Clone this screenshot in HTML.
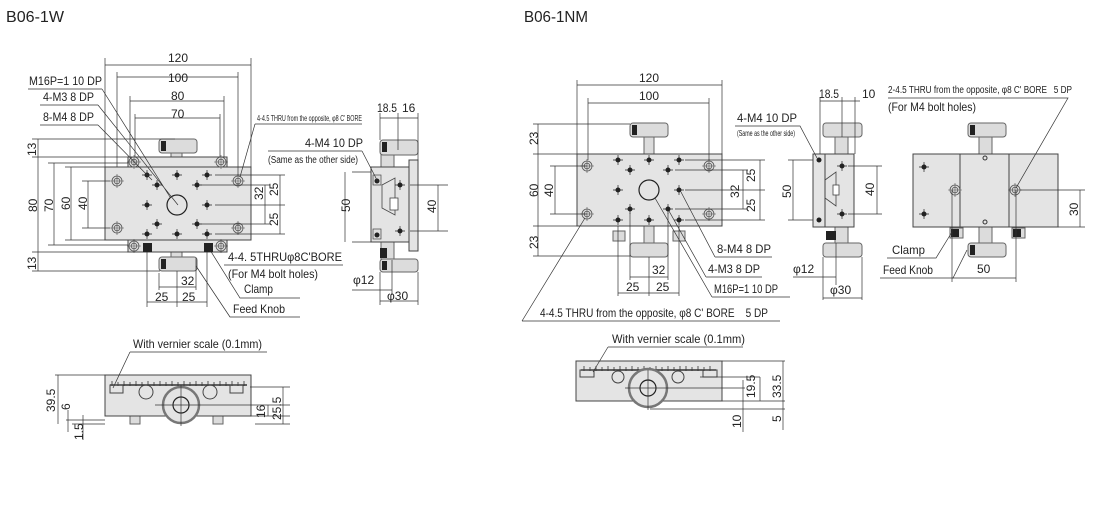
<!DOCTYPE html>
<html><head><meta charset="utf-8"><style>
html,body{margin:0;padding:0;background:#fff;width:1100px;height:515px;overflow:hidden}
svg{display:block}
text{font-family:"Liberation Sans Narrow","Liberation Sans",sans-serif;font-size:12px;fill:#222}
.s{font-size:8px}
.t{font-size:16px}
.b{fill:#e4e4e4;stroke:#444;stroke-width:1}
.k{fill:#dcdcdc;stroke:#666;stroke-width:1}
.l{stroke:#333;stroke-width:0.7;fill:none}
</style></head><body>
<svg width="1100" height="515" viewBox="0 0 1100 515" xmlns="http://www.w3.org/2000/svg">
<defs>
<g id="h"><circle r="2.5" fill="#222"/><path d="M-5 0H5M0 -5V5" stroke="#222" stroke-width="0.7"/></g>
<g id="c"><circle r="5" fill="#ddd" stroke="#555" stroke-width="0.8"/><circle r="2.8" fill="none" stroke="#555" stroke-width="0.8"/><path d="M-7 0H7M0 -7V7" stroke="#555" stroke-width="0.6"/></g>
<g id="kn"><rect x="0" y="0" width="38" height="14" rx="3" class="k"/><rect x="2" y="2" width="5" height="10" fill="#222"/></g>
</defs>
<text x="6" y="22" class="t" textLength="58" lengthAdjust="spacingAndGlyphs">B06-1W</text>
<text x="524" y="22" class="t" textLength="64" lengthAdjust="spacingAndGlyphs">B06-1NM</text>

<!-- ===== LEFT TOP VIEW ===== -->
<g>
<rect x="171" y="150" width="11" height="17" class="k"/>
<rect x="171" y="240" width="11" height="18" class="k"/>
<use href="#kn" x="159" y="139"/>
<use href="#kn" x="159" y="257"/>
<rect x="128" y="157" width="99" height="10" class="b"/>
<rect x="128" y="240" width="99" height="12" class="b"/>
<rect x="105" y="167" width="146" height="73" class="b"/>
<use href="#c" x="134" y="162"/><use href="#c" x="221" y="162"/>
<use href="#c" x="134" y="246"/><use href="#c" x="221" y="246"/>
<use href="#c" x="117" y="181"/><use href="#c" x="238" y="181"/>
<use href="#c" x="117" y="228"/><use href="#c" x="238" y="228"/>
<rect x="143" y="243" width="9" height="9" fill="#222"/><rect x="204" y="243" width="9" height="9" fill="#222"/>
<use href="#h" x="147" y="175"/><use href="#h" x="177" y="175"/><use href="#h" x="207" y="175"/>
<use href="#h" x="157" y="185"/><use href="#h" x="197" y="185"/>
<use href="#h" x="147" y="205"/><use href="#h" x="207" y="205"/>
<use href="#h" x="157" y="224"/><use href="#h" x="197" y="224"/>
<use href="#h" x="147" y="234"/><use href="#h" x="177" y="234"/><use href="#h" x="207" y="234"/>
<circle cx="177" cy="205" r="10" fill="#e4e4e4" stroke="#222" stroke-width="1.2"/>
<path class="l" d="M105 167V58M251 167V58M117 167V72M238 175V72M130 157V96M224 157V96M135 157V114M220 157V114"/>
<path class="l" d="M105 65H251M117 77H238M130 101H224M135 118H220"/>
<text x="168" y="62">120</text><text x="168" y="82">100</text><text x="171" y="100">80</text><text x="171" y="118">70</text>
<path class="l" d="M28 89H102M40 105H98M40 125H98M102 89L170 197M98 105L178 205M98 125L152 180"/>
<text x="29" y="85" textLength="73" lengthAdjust="spacingAndGlyphs">M16P=1 10 DP</text>
<text x="43" y="101" textLength="51" lengthAdjust="spacingAndGlyphs">4-M3 8 DP</text>
<text x="43" y="121" textLength="51" lengthAdjust="spacingAndGlyphs">8-M4 8 DP</text>
<text x="257" y="121" class="s" textLength="105" lengthAdjust="spacingAndGlyphs">4-4.5 THRU from the opposite, φ8 C' BORE</text>
<path class="l" d="M255 124H362M255 124L240 177"/>
<path class="l" d="M32 139H175M32 157H128M32 252H128M32 271H160M38 139V271"/>
<path class="l" d="M48 163H128M48 245H128M65 167H105M65 240H105M82 181H110M82 228H110"/>
<path class="l" d="M54 163V245M71 167V240M88 181V228"/>
<text transform="translate(36 156) rotate(-90)">13</text><text transform="translate(36 270) rotate(-90)">13</text>
<text transform="translate(37 212) rotate(-90)">80</text><text transform="translate(53 212) rotate(-90)">70</text>
<text transform="translate(70 210) rotate(-90)">60</text><text transform="translate(87 210) rotate(-90)">40</text>
<path class="l" d="M215 175H285M200 185H270M215 205H285M200 224H270M215 234H285M265 185V224M280 175V205M280 205V234"/>
<text transform="translate(263 200) rotate(-90)">32</text><text transform="translate(278 196) rotate(-90)">25</text><text transform="translate(278 226) rotate(-90)">25</text>
<path class="l" d="M147 252V307M177 271V307M207 252V307M159 273V290M196 258V290M159 287H196M147 302H207"/>
<text x="181" y="285">32</text><text x="155" y="301">25</text><text x="182" y="301">25</text>
<text x="228" y="261" textLength="114" lengthAdjust="spacingAndGlyphs">4-4. 5THRUφ8C'BORE</text>
<text x="228" y="278" textLength="90" lengthAdjust="spacingAndGlyphs">(For M4 bolt holes)</text>
<text x="244" y="293" textLength="29" lengthAdjust="spacingAndGlyphs">Clamp</text>
<text x="233" y="313" textLength="52" lengthAdjust="spacingAndGlyphs">Feed Knob</text>
<path class="l" d="M224 265H343M210 250L240 298H300M196 266L230 317H300"/>
</g>

<!-- LEFT SIDE VIEW -->
<g>
<rect x="381" y="150" width="13" height="18" class="k"/>
<rect x="381" y="242" width="13" height="18" class="k"/>
<rect x="380" y="140" width="38" height="15" rx="3" class="k"/><rect x="382" y="142" width="5" height="10" fill="#222"/>
<rect x="380" y="259" width="38" height="13" rx="3" class="k"/><rect x="382" y="261" width="5" height="9" fill="#222"/>
<rect x="409" y="160" width="9" height="91" class="b"/>
<rect x="371" y="167" width="38" height="75" class="b"/>
<path d="M382 185L395 178V215L382 208Z" fill="none" stroke="#444" stroke-width="0.8"/>
<rect x="390" y="198" width="8" height="12" fill="#fff" stroke="#444" stroke-width="0.8"/>
<use href="#h" x="400" y="185"/><use href="#h" x="400" y="231"/>
<rect x="373" y="175" width="8" height="10" fill="#ddd" stroke="#444" stroke-width="0.7"/><circle cx="377" cy="181" r="2.5" fill="#222"/>
<rect x="373" y="229" width="8" height="10" fill="#ddd" stroke="#444" stroke-width="0.7"/><circle cx="377" cy="235" r="2.5" fill="#222"/>
<rect x="380" y="248" width="7" height="10" fill="#222"/>
<path class="l" d="M380 113V140M398 113V150M418 113V160M380 118H418"/>
<text x="377" y="112" textLength="20" lengthAdjust="spacingAndGlyphs">18.5</text><text x="402" y="112">16</text>
<path class="l" d="M352 172H371M352 242H371M345 172V242M410 185H448M410 231H448M438 185V231"/>
<text transform="translate(350 212) rotate(-90)">50</text><text transform="translate(436 213) rotate(-90)">40</text>
<text x="305" y="147" textLength="58" lengthAdjust="spacingAndGlyphs">4-M4 10 DP</text>
<text x="268" y="163" style="font-size:10px" textLength="90" lengthAdjust="spacingAndGlyphs">(Same as the other side)</text>
<path class="l" d="M268 151H362M362 151L378 182"/>
<path class="l" d="M380 272V305M418 272V305M392 260V295M352 290H392M380 301H418"/>
<text x="353" y="284">φ12</text><text x="387" y="300">φ30</text>
</g>

<!-- LEFT FRONT VIEW -->
<g>
<rect x="130" y="416" width="10" height="8" class="k"/><rect x="213" y="416" width="10" height="8" class="k"/>
<rect x="105" y="375" width="146" height="41" class="b"/>
<path d="M110 385H247" stroke="#333" stroke-width="1.5"/>
<path d="M112 381V386M118 382V386M124 381V386M130 382V386M136 381V386M142 382V386M148 381V386M154 382V386M160 381V386M166 382V386M172 381V386M178 382V386M184 381V386M190 382V386M196 381V386M202 382V386M208 381V386M214 382V386M220 381V386M226 382V386M232 381V386M238 382V386M244 381V386" stroke="#333" stroke-width="0.8"/>
<rect x="110" y="385" width="13" height="8" fill="none" stroke="#444"/><rect x="230" y="385" width="13" height="8" fill="none" stroke="#444"/>
<circle cx="146" cy="392" r="7" fill="none" stroke="#444"/><circle cx="210" cy="392" r="7" fill="none" stroke="#444"/>
<circle cx="181" cy="405" r="18" fill="#e4e4e4" stroke="#777" stroke-width="2.5"/>
<circle cx="181" cy="405" r="8" fill="none" stroke="#222" stroke-width="1.2"/>
<path class="l" d="M155 405H290M181 385V426M55 375H105M58 375V424M250 387H290M250 416H290M255 424H290M66 420H105M72 424H105M68 410V432M83 415V440"/>
<path class="l" d="M268 405V416M283 387V424"/>
<text transform="translate(55 412) rotate(-90)">39.5</text><text transform="translate(70 410) rotate(-90)">6</text>
<text transform="translate(83 440) rotate(-90)">1.5</text>
<text transform="translate(265 418) rotate(-90)">16</text><text transform="translate(281 420) rotate(-90)">25.5</text>
<text x="133" y="348" textLength="129" lengthAdjust="spacingAndGlyphs">With vernier scale (0.1mm)</text>
<path class="l" d="M130 352H267M130 352L113 388"/>
</g>

<!-- ===== RIGHT TOP VIEW ===== -->
<g>
<rect x="644" y="136" width="10" height="18" class="k"/><rect x="644" y="226" width="10" height="17" class="k"/>
<use href="#kn" x="630" y="123"/>
<rect x="630" y="243" width="38" height="14" rx="3" class="k"/>
<rect x="613" y="231" width="12" height="10" class="k"/><rect x="673" y="231" width="12" height="10" class="k"/>
<rect x="577" y="154" width="145" height="72" class="b"/>
<use href="#c" x="587" y="166"/><use href="#c" x="709" y="166"/><use href="#c" x="587" y="214"/><use href="#c" x="709" y="214"/>
<use href="#h" x="618" y="160"/><use href="#h" x="649" y="160"/><use href="#h" x="679" y="160"/>
<use href="#h" x="630" y="170"/><use href="#h" x="668" y="170"/>
<use href="#h" x="618" y="190"/><use href="#h" x="679" y="190"/>
<use href="#h" x="630" y="209"/><use href="#h" x="668" y="209"/>
<use href="#h" x="618" y="220"/><use href="#h" x="649" y="220"/><use href="#h" x="679" y="220"/>
<circle cx="649" cy="190" r="10" fill="#e4e4e4" stroke="#222" stroke-width="1.2"/>
<path class="l" d="M577 154V80M722 154V80M588 160V98M709 160V98M577 85H722M588 103H709"/>
<text x="639" y="82">120</text><text x="639" y="100">100</text>
<path class="l" d="M533 124H630M533 154H577M533 226H577M533 256H630M538 124V256M550 166H587M550 214H587M555 166V214"/>
<text transform="translate(538 145) rotate(-90)">23</text><text transform="translate(538 249) rotate(-90)">23</text>
<text transform="translate(538 197) rotate(-90)">60</text><text transform="translate(553 197) rotate(-90)">40</text>
<path class="l" d="M685 160H765M675 170H748M685 190H765M675 209H748M685 220H765M743 170V209M760 160V190M760 190V220"/>
<text transform="translate(739 198) rotate(-90)">32</text><text transform="translate(755 182) rotate(-90)">25</text><text transform="translate(755 212) rotate(-90)">25</text>
<path class="l" d="M618 226V296M679 226V296M630 213V280M668 213V280M630 277H668M618 293H679M649 257V296"/>
<text x="652" y="274">32</text><text x="626" y="291">25</text><text x="656" y="291">25</text>
<text x="717" y="253" textLength="54" lengthAdjust="spacingAndGlyphs">8-M4 8 DP</text>
<text x="708" y="273" textLength="52" lengthAdjust="spacingAndGlyphs">4-M3 8 DP</text>
<text x="714" y="293" textLength="64" lengthAdjust="spacingAndGlyphs">M16P=1 10 DP</text>
<path class="l" d="M715 257H772M681 192L715 257M706 277H762M669 211L706 277M712 297H790M655 198L712 297"/>
<text x="540" y="317" textLength="228" lengthAdjust="spacingAndGlyphs">4-4.5 THRU from the opposite, φ8 C' BORE&#160;&#160;&#160;&#160;5 DP</text>
<path class="l" d="M522 321H780M522 321L585 218"/>
</g>

<!-- RIGHT SIDE VIEW -->
<g>
<rect x="835" y="137" width="13" height="17" class="k"/><rect x="835" y="227" width="13" height="16" class="k"/>
<rect x="823" y="123" width="39" height="14" rx="3" class="k"/>
<rect x="823" y="243" width="39" height="14" rx="3" class="k"/>
<rect x="825" y="154" width="29" height="73" class="b"/>
<rect x="813" y="154" width="12" height="73" class="b"/>
<path d="M825 180L836 172V206L825 198Z" fill="none" stroke="#444" stroke-width="0.8"/>
<rect x="833" y="185" width="6" height="10" fill="#fff" stroke="#444" stroke-width="0.8"/>
<use href="#h" x="842" y="166"/><use href="#h" x="842" y="214"/>
<circle cx="819" cy="160" r="2.5" fill="#222"/><circle cx="819" cy="220" r="2.5" fill="#222"/>
<rect x="826" y="231" width="10" height="9" fill="#222"/>
<path class="l" d="M820 97V154M842 97V137M855 97V154M820 101H860"/>
<text x="819" y="98" textLength="20" lengthAdjust="spacingAndGlyphs">18.5</text><text x="862" y="98">10</text>
<path class="l" d="M788 160H813M788 220H813M793 160V220M848 166H882M848 214H882M877 166V214"/>
<text transform="translate(791 198) rotate(-90)">50</text><text transform="translate(874 196) rotate(-90)">40</text>
<text x="737" y="122" textLength="60" lengthAdjust="spacingAndGlyphs">4-M4 10 DP</text>
<text x="737" y="136" class="s" textLength="58" lengthAdjust="spacingAndGlyphs">(Same as the other side)</text>
<path class="l" d="M735 126H800L817 158"/>
<path class="l" d="M823 257V300M862 257V300M836 243V285M793 277H836M823 298H862"/>
<text x="793" y="273">φ12</text><text x="830" y="294">φ30</text>
</g>

<!-- RIGHT END VIEW -->
<g>
<rect x="979" y="136" width="13" height="18" class="k"/><rect x="979" y="227" width="13" height="16" class="k"/>
<use href="#kn" x="968" y="123"/>
<rect x="968" y="243" width="38" height="14" rx="3" class="k"/><rect x="970" y="245" width="5" height="10" fill="#222"/>
<rect x="913" y="154" width="145" height="73" class="b"/>
<path d="M960 154V227M1009 154V227" stroke="#444" stroke-width="1"/>
<use href="#h" x="924" y="167"/><use href="#h" x="924" y="214"/>
<use href="#c" x="955" y="190"/><use href="#c" x="1015" y="190"/>
<circle cx="985" cy="158" r="2" fill="none" stroke="#333"/><circle cx="985" cy="222" r="2" fill="none" stroke="#333"/>
<rect x="950" y="228" width="13" height="10" class="k"/><rect x="951" y="229" width="8" height="8" fill="#222"/>
<rect x="1012" y="228" width="13" height="10" class="k"/><rect x="1013" y="229" width="8" height="8" fill="#222"/>
<path class="l" d="M1020 190H1085M1058 227H1085M1080 190V227M952 190V282M1016 190V282M952 278H1016"/>
<text transform="translate(1078 216) rotate(-90)">30</text><text x="977" y="273">50</text>
<text x="888" y="93" style="font-size:10px" textLength="184" lengthAdjust="spacingAndGlyphs">2-4.5 THRU from the opposite, φ8 C' BORE&#160;&#160;&#160;5 DP</text>
<text x="888" y="111" textLength="88" lengthAdjust="spacingAndGlyphs">(For M4 bolt holes)</text>
<path class="l" d="M888 98H1068L1016 188"/>
<text x="892" y="254" textLength="33" lengthAdjust="spacingAndGlyphs">Clamp</text>
<text x="883" y="274" textLength="50" lengthAdjust="spacingAndGlyphs">Feed Knob</text>
<path class="l" d="M887 258H936L952 232M880 278H953L967 250"/>
</g>

<!-- RIGHT FRONT VIEW -->
<g>
<rect x="576" y="361" width="146" height="40" class="b"/>
<path d="M581 370H716" stroke="#333" stroke-width="1.5"/>
<path d="M584 366V371M590 367V371M596 366V371M602 367V371M608 366V371M614 367V371M620 366V371M626 367V371M632 366V371M638 367V371M644 366V371M650 367V371M656 366V371M662 367V371M668 366V371M674 367V371M680 366V371M686 366V371M692 367V371M698 366V371M704 367V371M710 366V371" stroke="#333" stroke-width="0.8"/>
<rect x="580" y="370" width="14" height="7" fill="none" stroke="#444"/><rect x="703" y="370" width="14" height="7" fill="none" stroke="#444"/>
<circle cx="618" cy="377" r="6" fill="none" stroke="#444"/><circle cx="678" cy="377" r="6" fill="none" stroke="#444"/>
<circle cx="648" cy="388" r="19" fill="#e4e4e4" stroke="#777" stroke-width="2.5"/>
<circle cx="648" cy="388" r="8" fill="none" stroke="#222" stroke-width="1.2"/>
<path class="l" d="M625 388H745M648 370V410M722 361H785M700 377H760M722 401H785M650 409H785M743 380V432M760 377V401M783 361V430"/>
<text transform="translate(755 398) rotate(-90)">19.5</text><text transform="translate(781 398) rotate(-90)">33.5</text>
<text transform="translate(741 428) rotate(-90)">10</text><text transform="translate(781 422) rotate(-90)">5</text>
<text x="612" y="343" textLength="133" lengthAdjust="spacingAndGlyphs">With vernier scale (0.1mm)</text>
<path class="l" d="M608 347H743M608 347L593 372"/>
</g>
</svg>
</body></html>
